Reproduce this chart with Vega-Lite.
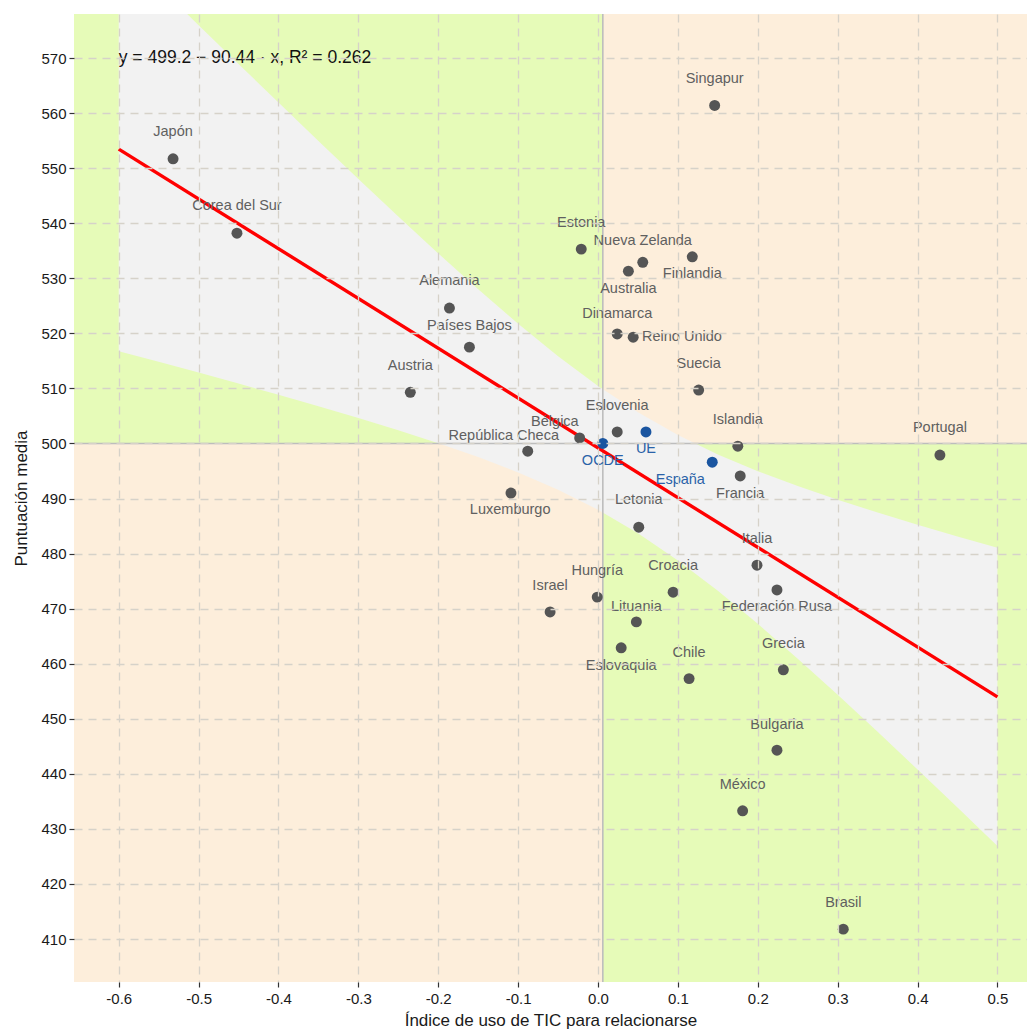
{
  "$schema": "https://vega.github.io/schema/vega-lite/v6.json",
  "autosize": {"type": "none"},
  "padding": {"left": 74, "top": 14, "right": 0, "bottom": 47},
  "width": 953,
  "height": 968,
  "background": "white",
  "config": {
    "view": {"stroke": null},
    "font": "Liberation Sans",
    "axis": {
      "grid": true,
      "gridColor": "#d6d2c9",
      "gridDash": [8, 6],
      "gridWidth": 1.3,
      "domain": false,
      "tickColor": "#333333",
      "tickSize": 5,
      "tickWidth": 1.2,
      "labelColor": "#1a1a1a",
      "labelFontSize": 15,
      "labelFont": "Liberation Sans",
      "titleFont": "Liberation Sans",
      "titleFontSize": 17,
      "titleFontWeight": "normal",
      "titleColor": "#1a1a1a"
    }
  },
  "datasets": {
    "quad": [
      {"x1": -0.7, "x2": 0.006, "y1": 500, "y2": 600, "q": "verde"},
      {"x1": 0.006, "x2": 0.6, "y1": 500, "y2": 600, "q": "naranja"},
      {"x1": -0.7, "x2": 0.006, "y1": 400, "y2": 500, "q": "naranja"},
      {"x1": 0.006, "x2": 0.6, "y1": 400, "y2": 500, "q": "verde"}
    ],
    "banda": [
      {"x": -0.60, "lo": 516.76, "hi": 590.16},
      {"x": -0.55, "lo": 514.83, "hi": 583.05},
      {"x": -0.50, "lo": 512.87, "hi": 575.97},
      {"x": -0.45, "lo": 510.88, "hi": 568.92},
      {"x": -0.40, "lo": 508.85, "hi": 561.91},
      {"x": -0.35, "lo": 506.77, "hi": 554.93},
      {"x": -0.30, "lo": 504.63, "hi": 548.03},
      {"x": -0.25, "lo": 502.41, "hi": 541.21},
      {"x": -0.20, "lo": 500.06, "hi": 534.52},
      {"x": -0.15, "lo": 497.54, "hi": 528.00},
      {"x": -0.10, "lo": 494.75, "hi": 521.73},
      {"x": -0.05, "lo": 491.60, "hi": 515.84},
      {"x": 0.00, "lo": 487.96, "hi": 510.44},
      {"x": 0.05, "lo": 483.70, "hi": 505.66},
      {"x": 0.10, "lo": 478.77, "hi": 501.55},
      {"x": 0.15, "lo": 473.24, "hi": 498.02},
      {"x": 0.20, "lo": 467.25, "hi": 494.97},
      {"x": 0.25, "lo": 460.92, "hi": 492.26},
      {"x": 0.30, "lo": 454.36, "hi": 489.78},
      {"x": 0.35, "lo": 447.64, "hi": 487.46},
      {"x": 0.40, "lo": 440.79, "hi": 485.25},
      {"x": 0.45, "lo": 433.87, "hi": 483.13},
      {"x": 0.50, "lo": 426.89, "hi": 481.07}
    ],
    "recta": [
      {"x": -0.6, "y": 553.46},
      {"x": 0.5, "y": 453.98}
    ],
    "paises": [
      {"pais": "Japón", "x": -0.532, "y": 551.7, "lx": -0.532, "ly": 556.6, "grupo": "país"},
      {"pais": "Corea del Sur", "x": -0.452, "y": 538.2, "lx": -0.452, "ly": 543.1, "grupo": "país"},
      {"pais": "Alemania", "x": -0.186, "y": 524.6, "lx": -0.186, "ly": 529.5, "grupo": "país"},
      {"pais": "Países Bajos", "x": -0.161, "y": 517.5, "lx": -0.161, "ly": 521.3, "grupo": "país"},
      {"pais": "Austria", "x": -0.235, "y": 509.3, "lx": -0.235, "ly": 514.1, "grupo": "país"},
      {"pais": "Singapur", "x": 0.146, "y": 561.4, "lx": 0.146, "ly": 566.2, "grupo": "país"},
      {"pais": "Estonia", "x": -0.021, "y": 535.3, "lx": -0.021, "ly": 540.1, "grupo": "país"},
      {"pais": "Nueva Zelanda", "x": 0.056, "y": 532.9, "lx": 0.056, "ly": 536.8, "grupo": "país"},
      {"pais": "Finlandia", "x": 0.118, "y": 533.9, "lx": 0.118, "ly": 530.8, "grupo": "país"},
      {"pais": "Australia", "x": 0.038, "y": 531.3, "lx": 0.038, "ly": 528.0, "grupo": "país"},
      {"pais": "Dinamarca", "x": 0.024, "y": 519.9, "lx": 0.024, "ly": 523.5, "grupo": "país"},
      {"pais": "Reino Unido", "x": 0.044, "y": 519.3, "lx": 0.105, "ly": 519.3, "grupo": "país"},
      {"pais": "Suecia", "x": 0.126, "y": 509.7, "lx": 0.126, "ly": 514.4, "grupo": "país"},
      {"pais": "Eslovenia", "x": 0.024, "y": 502.1, "lx": 0.024, "ly": 506.8, "grupo": "país"},
      {"pais": "Islandia", "x": 0.175, "y": 499.5, "lx": 0.175, "ly": 504.3, "grupo": "país"},
      {"pais": "Portugal", "x": 0.428, "y": 497.9, "lx": 0.428, "ly": 502.8, "grupo": "país"},
      {"pais": "Bélgica", "x": -0.023, "y": 501.0, "lx": -0.054, "ly": 503.9, "grupo": "país"},
      {"pais": "República Checa", "x": -0.088, "y": 498.6, "lx": -0.118, "ly": 501.4, "grupo": "país"},
      {"pais": "Francia", "x": 0.178, "y": 494.1, "lx": 0.178, "ly": 490.8, "grupo": "país"},
      {"pais": "Luxemburgo", "x": -0.109, "y": 491.0, "lx": -0.110, "ly": 487.9, "grupo": "país"},
      {"pais": "Letonia", "x": 0.051, "y": 484.8, "lx": 0.051, "ly": 489.7, "grupo": "país"},
      {"pais": "Italia", "x": 0.199, "y": 477.9, "lx": 0.199, "ly": 482.6, "grupo": "país"},
      {"pais": "Croacia", "x": 0.094, "y": 473.0, "lx": 0.094, "ly": 477.7, "grupo": "país"},
      {"pais": "Federación Rusa", "x": 0.224, "y": 473.4, "lx": 0.224, "ly": 470.3, "grupo": "país"},
      {"pais": "Hungría", "x": -0.001, "y": 472.1, "lx": -0.001, "ly": 476.8, "grupo": "país"},
      {"pais": "Israel", "x": -0.060, "y": 469.4, "lx": -0.060, "ly": 474.1, "grupo": "país"},
      {"pais": "Lituania", "x": 0.048, "y": 467.6, "lx": 0.048, "ly": 470.3, "grupo": "país"},
      {"pais": "Eslovaquia", "x": 0.029, "y": 462.9, "lx": 0.029, "ly": 459.6, "grupo": "país"},
      {"pais": "Chile", "x": 0.114, "y": 457.3, "lx": 0.114, "ly": 462.0, "grupo": "país"},
      {"pais": "Grecia", "x": 0.232, "y": 458.9, "lx": 0.232, "ly": 463.6, "grupo": "país"},
      {"pais": "Bulgaria", "x": 0.224, "y": 444.3, "lx": 0.224, "ly": 448.9, "grupo": "país"},
      {"pais": "México", "x": 0.181, "y": 433.3, "lx": 0.181, "ly": 438.0, "grupo": "país"},
      {"pais": "Brasil", "x": 0.307, "y": 411.8, "lx": 0.307, "ly": 416.6, "grupo": "país"},
      {"pais": "OCDE", "x": 0.006, "y": 500.0, "lx": 0.006, "ly": 496.8, "grupo": "referencia"},
      {"pais": "UE", "x": 0.060, "y": 502.1, "lx": 0.060, "ly": 499.0, "grupo": "referencia"},
      {"pais": "España", "x": 0.143, "y": 496.6, "lx": 0.103, "ly": 493.4, "grupo": "referencia"}
    ],
    "ref": [{"x": 0.006, "y": 500}],
    "eq": [{"x": -0.6, "y": 570, "t": "y = 499.2 − 90.44 · x,  R² = 0.262"}]
  },
  "layer": [
    {
      "data": {"name": "quad"},
      "mark": {"type": "rect", "clip": true},
      "encoding": {
        "x": {"field": "x1", "type": "quantitative", "scale": {"domain": [-0.656, 0.537], "nice": false, "zero": false},
              "axis": {"zindex": 2, "values": [-0.6, -0.5, -0.4, -0.3, -0.2, -0.1, 0, 0.1, 0.2, 0.3, 0.4, 0.5], "labelExpr": "replace(format(datum.value, '.1f'), '−', '-')", "labelPadding": 4, "title": "Índice de uso de TIC para relacionarse", "titlePadding": 6}},
        "x2": {"field": "x2"},
        "y": {"field": "y1", "type": "quantitative", "scale": {"domain": [402.2, 578], "nice": false, "zero": false},
              "axis": {"zindex": 2, "values": [410, 420, 430, 440, 450, 460, 470, 480, 490, 500, 510, 520, 530, 540, 550, 560, 570], "labelPadding": 3, "title": "Puntuación media", "titlePadding": 10}},
        "y2": {"field": "y2"},
        "color": {"field": "q", "type": "nominal", "scale": {"domain": ["verde", "naranja"], "range": ["#e6fbb8", "#fdeedb"]}, "legend": null}
      }
    },
    {
      "data": {"name": "banda"},
      "mark": {"type": "area", "clip": true, "color": "#f2f2f2", "opacity": 1},
      "encoding": {
        "x": {"field": "x", "type": "quantitative"},
        "y": {"field": "lo", "type": "quantitative"},
        "y2": {"field": "hi"}
      }
    },
    {
      "data": {"name": "ref"},
      "mark": {"type": "rule", "color": "#bdbdbd", "strokeWidth": 1.6, "clip": true},
      "encoding": {"x": {"field": "x", "type": "quantitative"}}
    },
    {
      "data": {"name": "ref"},
      "mark": {"type": "rule", "color": "#bdbdbd", "strokeWidth": 1.6, "clip": true},
      "encoding": {"y": {"field": "y", "type": "quantitative"}}
    },
    {
      "data": {"name": "recta"},
      "mark": {"type": "line", "color": "#ff0000", "strokeWidth": 3.4, "clip": true},
      "encoding": {
        "x": {"field": "x", "type": "quantitative"},
        "y": {"field": "y", "type": "quantitative"}
      }
    },
    {
      "data": {"name": "paises"},
      "mark": {"type": "point", "filled": true, "size": 120, "opacity": 1, "clip": true},
      "encoding": {
        "x": {"field": "x", "type": "quantitative"},
        "y": {"field": "y", "type": "quantitative"},
        "color": {"field": "grupo", "type": "nominal", "scale": {"domain": ["país", "referencia"], "range": ["#555555", "#1a55a0"]}, "legend": null}
      }
    },
    {
      "data": {"name": "paises"},
      "mark": {"type": "text", "fontSize": 14.5, "font": "Liberation Sans", "baseline": "middle", "align": "center"},
      "encoding": {
        "x": {"field": "lx", "type": "quantitative"},
        "y": {"field": "ly", "type": "quantitative"},
        "text": {"field": "pais"},
        "color": {"field": "grupo", "type": "nominal", "scale": {"domain": ["país", "referencia"], "range": ["#606060", "#2a62a8"]}, "legend": null}
      }
    },
    {
      "data": {"name": "eq"},
      "mark": {"type": "text", "fontSize": 17.5, "font": "Liberation Sans", "align": "left", "baseline": "middle", "color": "#111111"},
      "encoding": {
        "x": {"field": "x", "type": "quantitative"},
        "y": {"field": "y", "type": "quantitative"},
        "text": {"field": "t"}
      }
    }
  ],
  "resolve": {"scale": {"color": "independent"}}
}
